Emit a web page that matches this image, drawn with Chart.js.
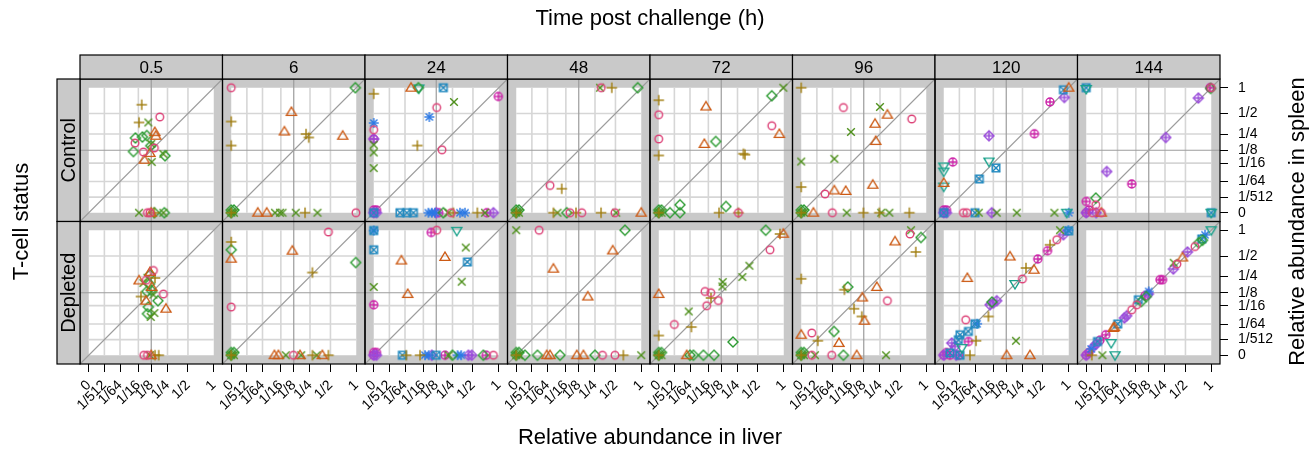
<!DOCTYPE html>
<html>
<head>
<meta charset="utf-8">
<script src="https://cdn.jsdelivr.net/npm/chart.js@4.4.1/dist/chart.umd.min.js"></script>
<style>
html,body{margin:0;padding:0;background:#fff;}
canvas{display:block;}
</style>
</head>
<body>
<canvas id="c" width="1314" height="450"></canvas>
<script>
// ---------------- data ----------------
const times = ['0.5', '6', '24', '48', '72', '96', '120', '144'];
const statuses = ['Control', 'Depleted'];
const tickValues = [0, 1/512, 1/64, 1/16, 1/8, 1/4, 1/2, 1];
const tickLabels = ['0', '1/512', '1/64', '1/16', '1/8', '1/4', '1/2', '1'];
const seriesNames = ['Strain 1','Strain 2','Strain 3','Strain 4','Strain 5','Strain 6','Strain 7','Strain 8','Strain 9','Strain 10'];

// points: [series index, relative abundance in liver, relative abundance in spleen]
const ctrl_0_5 = [
  [2,0.0762,0.645],[2,0.065,0.3764],[3,0.1085,0.3764],[0,0.1833,0.4495],[1,0.1472,0.2683],[1,0.154,0.2337],
  [4,0.0519,0.2139],[4,0.079,0.2225],[4,0.0999,0.236],[0,0.0507,0.1737],[4,0.122,0.154],[0,0.1447,0.139],
  [0,0.0835,0.1148],[4,0.0455,0.1176],[1,0.1176,0.1092],[1,0.0881,0.0762],[3,0.128,0.0669],[4,0.227,0.0948],
  [3,0.2128,0.1038],[3,0.125,0.1664],
  [3,0.065,0],[0,0.1032,0],[0,0.1176,0],[1,0.125,0],[4,0.1447,0],[2,0.1447,0],[4,0.2214,0],[3,0.2128,0]
];
const depl_0_5 = [
  [0,0.1382,0.3117],[1,0.1176,0.2954],[4,0.1176,0.2671],[1,0.065,0.2139],[2,0.1489,0.236],[3,0.0835,0.1931],
  [4,0.1141,0.1852],[1,0.128,0.1628],[4,0.0999,0.1327],[2,0.073,0.1038],[1,0.0961,0.0829],[0,0.2128,0.1176],
  [4,0.17,0.0829],[4,0.1085,0.0575],[3,0.1382,0.1134],[1,0.236,0.0515],[4,0.1032,0.0366],[3,0.122,0.0287],
  [3,0.1447,0.0386],[4,0.125,0.1406],[3,0.1038,0.2383],[0,0.0973,0.216],
  [0,0.0852,0],[0,0.1038,0],[1,0.125,0],[3,0.1176,0],[2,0.1489,0],[2,0.1756,0]
];
const ctrl_6 = [
  [0,0,1],[4,0.9791,1],[2,0,0.389],[2,0,0.1557],[1,0.1113,0.5236],[1,0.0768,0.2746],[2,0.2139,0.25],
  [2,0.2383,0.2182],[1,0.7097,0.2337],
  [4,0,0],[3,0,0],[2,0,0],[4,0.00001,0.00001],[3,0.00001,0],[4,0,0.00001],
  [1,0.00953,0],[1,0.0229,0],[3,0.0429,0],[3,0.0593,0],[3,0.0689,0],[3,0.1374,0],
  [2,0.2054,0],[3,0.3285,0],[0,0.994,0]
];
const depl_6 = [
  [0,0.4691,0.9586],[2,0,0.7437],[4,0,0.6012],[1,0,0.4601],[1,0.1169,0.5843],[4,0.988,0.4085],
  [2,0.2734,0.2901],[0,0,0.0575],
  [4,0,0],[3,0,0],[2,0,0],[4,0.00001,0.00001],[3,0.00001,0],[4,0,0.00001],
  [1,0.0411,0],[1,0.0536,0],[3,0.0829,0],[0,0.1228,0],[1,0.1664,0],[3,0.1756,0],
  [2,0.2734,0],[3,0.32,0],[1,0.3874,0],[2,0.4691,0]
];
const ctrl_24 = [
  [2,0,0.8628],[1,0.0265,1],[4,0.0455,1],[5,0.0467,0.985],[6,0.1728,1],[9,0.991,0.8044],[3,0.2646,0.6955],
  [0,0.128,0.5969],[7,0.0881,0.4495],[7,0,0.3701],[0,0,0.2928],[9,0,0.2054],[8,0,0.2054],[3,0,0.161],
  [3,0,0.112],[3,0,0.0455],[2,0.0425,0.1557],[0,0.1628,0.128],
  [9,0,0],[8,0,0],[6,0,0],[9,0.00001,0.00001],[8,0.00001,0],[9,0,0.00001],
  [6,0.00926,0],[6,0.0184,0],[6,0.0319,0],[7,0.0835,0],[7,0.0999,0],[7,0.1176,0],
  [8,0.125,0],[9,0.1406,0],[4,0.1728,0],[3,0.2128,0],[2,0.2585,0],[0,0.2383,0],[7,0.3285,0],[7,0.389,0],
  [2,0.5697,0],[3,0.705,0],[9,0.741,0],[8,0.8765,0]
];
const depl_24 = [
  [7,0,0.994],[6,0,0.994],[9,0.0973,0.947],[0,0.128,1],[5,0.2928,0.988],[6,0,0.6012],[1,0.0108,0.4355],
  [1,0.1852,0.4856],[3,0.3987,0.6405],[6,0.4202,0.4152],[3,0.3489,0.2033],[3,0,0.1628],[1,0.0201,0.1176],
  [9,0,0.0659],
  [9,0,0],[8,0,0],[9,0.00001,0.00001],[8,0.00001,0],[9,0,0.00001],
  [6,0.012,0],[2,0.0176,0],[2,0.0507,0],[7,0.0689,0],[7,0.0852,0],[8,0.0999,0],[6,0.125,0],
  [9,0.1852,0],[3,0.216,0],[4,0.25,0],[7,0.3008,0],[7,0.343,0],[8,0.4338,0],[8,0.4819,0],[4,0.6745,0],
  [9,0.729,0],[0,0.8765,0]
];
const ctrl_48 = [
  [3,0.3008,1],[0,0.3144,1],[2,0.446,1],[4,0.9183,1],[0,0.0197,0.0104],[2,0.0482,0.00708],
  [4,0,0],[3,0,0],[2,0,0],[4,0.00001,0.00001],[3,0.00001,0],[4,0,0.00001],
  [2,0.0262,0],[3,0.0359,0],[4,0.0659,0],[0,0.0795,0],[2,0.1092,0],[0,0.1439,0],
  [2,0.3117,0],[0,0.493,0],[3,0.512,0],[1,1,0]
];
const depl_48 = [
  [3,0,1],[0,0.00613,1],[4,0.6585,1],[1,0.4601,0.5885],[1,0.0262,0.3314],[1,0.1872,0.1038],
  [4,0,0],[3,0,0],[2,0,0],[4,0.00001,0.00001],[3,0.00001,0],[4,0,0.00001],
  [4,0.000343,0],[4,0.00491,0],[1,0.0145,0],[1,0.0197,0],[4,0.0429,0],[1,0.1134,0],
  [1,0.1549,0],[4,0.25,0],[0,0.3285,0],[0,0.493,0],[2,0.6294,0],[3,1,0]
];
const ctrl_72 = [
  [3,0.991,1],[4,0.7388,0.82],[2,0,0.729],[1,0.054,0.6141],[0,0,0.4819],[0,0.7388,0.3372],[1,0.8986,0.25],
  [0,0,0.2054],[1,0.0486,0.1664],[4,0.0948,0.1852],[2,0,0.0961],[2,0.3103,0.1052],[2,0.3285,0.1005],
  [4,0,0],[3,0,0],[2,0,0],[4,0.00001,0.00001],[3,0.00001,0],[4,0,0.00001],
  [4,0.000729,0],[4,0.00491,0],[4,0.00491,0.000262],[2,0.112,0],[4,0.1557,0.000125],
  [0,0.2585,0],[2,0.2585,0]
];
const depl_72 = [
  [4,0.6272,1],[2,0.9127,0.9127],[1,0.991,0.9183],[0,0.705,0.6012],[3,0.3811,0.3671],[3,0.2994,0.2453],
  [3,0.1342,0.2012],[3,0.1319,0.1664],[0,0.0507,0.1327],[0,0.072,0.125],[2,0.073,0.0961],[0,0.0566,0.0621],
  [0,0.1085,0.084],[1,0,0.1176],[3,0.0138,0.0429],[0,0.00195,0.0149],[2,0.0178,0.0115],[2,0,0.00394],
  [4,0.2096,0.00119],
  [4,0,0],[3,0,0],[2,0,0],[4,0.00001,0.00001],[3,0.00001,0],[4,0,0.00001],
  [1,0.0112,0],[4,0.0156,0],[4,0.0213,0],[4,0.0455,0],[4,0.0864,0]
];
const ctrl_96 = [
  [2,0,1],[0,0.0383,0.5969],[3,0.25,0.6055],[1,0.3271,0.4819],[0,0.6908,0.4219],[1,0.2054,0.3609],
  [3,0.063,0.2696],[1,0.2117,0.1891],[3,0,0.0689],[3,0.0186,0.0806],[2,0,0.00874],[1,0.0186,0.00564],
  [1,0.0451,0.00527],[1,0.1872,0.0112],[0,0.00686,0.00338],
  [4,0,0],[3,0,0],[2,0,0],[4,0.00001,0.00001],[3,0.00001,0],[4,0,0.00001],
  [1,0.000913,0],[0,0.0154,0],[3,0.0482,0],[2,0.1228,0],[2,0.2441,0],[3,0.2621,0],
  [3,0.3504,0],[2,0.6472,0]
];
const depl_96 = [
  [3,0.6769,1],[0,0.6585,0.9127],[4,0.8792,0.8359],[1,0.4219,0.7536],[2,0.7686,0.5636],[2,0,0.2292],
  [4,0.0515,0.1628],[2,0.0411,0.1439],[1,0.2204,0.1628],[1,0.1169,0.0986],[0,0.3271,0.0829],[2,0.0752,0.0515],
  [2,0.1134,0.0298],[1,0.1288,0.021],[0,0.000593,0.00564],[1,0,0.00441],[2,0.0023,0.00156],[4,0.018,0.00686],
  [1,0.0275,0.000941],
  [4,0,0],[3,0,0],[2,0,0],[4,0.00001,0.00001],[3,0.00001,0],[4,0,0.00001],
  [0,0.000593,0],[3,0.00133,0],[0,0.0145,0],[4,0.0383,0],[1,0.0875,0],[3,0.3117,0]
];
const ctrl_120 = [
  [1,1,1],[6,0.8765,0.9527],[9,0.6141,0.6955],[8,0.8986,0.7838],[9,0.3811,0.2524],[8,0.0474,0.2337],
  [9,0.000373,0.0669],[5,0.0474,0.0689],[6,0.073,0.0459],[6,0.0231,0.0197],[5,0,0.0507],[5,0,0.0359],
  [1,0,0.0135],[5,0,0.00926],
  [9,0,0],[8,0,0],[6,0,0],[9,0.00001,0.00001],[8,0.00001,0],[9,0,0.00001],
  [0,0.00387,0],[0,0.00623,0],[6,0.0156,0],[3,0.022,0],[8,0.0566,0],[3,0.0762,0],
  [3,0.1992,0],[3,0.6932,0],[5,0.9527,0],[7,1,0]
];
const depl_120 = [
  [3,0.8044,1],[7,0.991,1],[6,1,0.985],[8,0.8765,0.8958],[0,0.7388,0.7889],[2,0.6141,0.6908],[9,0.5718,0.5843],
  [9,0.4253,0.4565],[1,0.1489,0.493],[2,0.2849,0.3401],[1,0.3764,0.32],[0,0.2489,0.227],[5,0.1852,0.1852],
  [1,0.00675,0.236],[8,0.0762,0.0829],[8,0.0626,0.073],[4,0.0571,0.0768],[8,0.0507,0.0659],[2,0.0455,0.0298],
  [0,0.00545,0.0229],[6,0.0156,0.016],[7,0.019,0.016],[6,0.00765,0.00686],[6,0.0022,0.00441],[6,0.0016,0.00191],
  [8,0.000262,0.000941],[8,0.000729,0.000343],[9,0.00765,0.00133],[2,0.0172,0.00156],[3,0.1931,0.00156],
  [5,0.00299,0.000195],[6,0.000125,0.0000058],
  [9,0,0],[8,0,0],[9,0.00001,0.00001],[9,0.000125,0],[8,0.001,0],[6,0.0022,0],[9,0.00173,0],[2,0.00926,0],
  [1,0.128,0],[1,0.3285,0]
];
const ctrl_144 = [
  [6,0,1],[5,0,0.9703],[9,0.9703,1],[0,1,1],[4,0.985,0.985],[8,0.7217,0.7736],[8,0.2573,0.2182],
  [8,0.00441,0.0359],[9,0.0482,0.0122],[9,0,0.000729],[0,0.000439,0.000262],[4,0.000439,0.00164],
  [9,0,0],[8,0,0],[9,0.00001,0.00001],[0,0.000125,0],[8,0.000512,0],[0,0.00173,0],[1,0.00173,0],[6,1,0],[5,1,0]
];
const depl_144 = [
  [5,1,1],[7,0.8574,0.8958],[6,0.7889,0.8044],[4,0.729,0.729],[4,0.8044,0.7787],[0,0.6585,0.6585],
  [8,0.5314,0.5636],[1,0.4565,0.4782],[0,0.3811,0.389],[3,0.343,0.4052],[8,0.3386,0.3285],[9,0.2054,0.2204],
  [9,0.227,0.2204],[8,0.1228,0.1176],[7,0.125,0.1327],[4,0.1106,0.1038],[9,0.1038,0.1079],[6,0.0725,0.0875],
  [4,0.0852,0.0795],[0,0.0659,0.0659],[0,0.0482,0.0482],[8,0.0284,0.0265],[8,0.034,0.0316],[6,0.016,0.0156],
  [1,0.0102,0.0104],[1,0.0114,0.0114],[5,0.008,0.000941],[9,0.0038,0.00441],[3,0.00215,0],[5,0.0122,0],
  [8,0.000216,0.000343],[8,0.000512,0.000729],[9,0.00133,0.00173],[6,0.000729,0.00133],[7,0.000064,0.000125],
  [2,0.0000852,0],[9,0,0],[8,0,0],[9,0.00001,0.00001]
];

const panelData = [
  [ctrl_0_5, ctrl_6, ctrl_24, ctrl_48, ctrl_72, ctrl_96, ctrl_120, ctrl_144],
  [depl_0_5, depl_6, depl_24, depl_48, depl_72, depl_96, depl_120, depl_144]
];

// ---------------- styling ----------------
const FONT = "'Liberation Sans', Arial, Helvetica, sans-serif";
const seriesShapes = ['circle','triangle','plus','x','diamond','dtriangle','squarex','asterisk','diamondplus','circleplus'];
const seriesColors = ['#DD4479','#CC5A14','#A07C0C','#4F901C','#2A9A30','#17A08A','#2289BF','#2A78E4','#9A4CDA','#CC20A8'];

// cube-root axis transform
const tr = v => Math.cbrt(v);
const LO = -0.07, HI = 1.07;

function makeSymbol(shape, color) {
  const c = document.createElement('canvas');
  c.width = 16; c.height = 16;
  const g = c.getContext('2d');
  g.translate(8, 8);
  g.strokeStyle = color; g.lineWidth = 1.4;
  const line = (a, b, cc, d) => { g.beginPath(); g.moveTo(a, b); g.lineTo(cc, d); g.stroke(); };
  const circ = r => { g.beginPath(); g.arc(0, 0, r, 0, Math.PI * 2); g.stroke(); };
  const diamond = r => { g.beginPath(); g.moveTo(0, -r); g.lineTo(r, 0); g.lineTo(0, r); g.lineTo(-r, 0); g.closePath(); g.stroke(); };
  switch (shape) {
    case 'circle': circ(3.8); break;
    case 'triangle': g.beginPath(); g.moveTo(0, -5); g.lineTo(5, 3.4); g.lineTo(-5, 3.4); g.closePath(); g.stroke(); break;
    case 'plus': line(-5.3, 0, 5.3, 0); line(0, -5.3, 0, 5.3); break;
    case 'x': line(-3.8, -3.8, 3.8, 3.8); line(-3.8, 3.8, 3.8, -3.8); break;
    case 'diamond': diamond(5); break;
    case 'dtriangle': g.beginPath(); g.moveTo(0, 5); g.lineTo(5, -3.4); g.lineTo(-5, -3.4); g.closePath(); g.stroke(); break;
    case 'squarex': g.strokeRect(-3.8, -3.8, 7.6, 7.6); line(-3.8, -3.8, 3.8, 3.8); line(-3.8, 3.8, 3.8, -3.8); break;
    case 'asterisk': line(-5, 0, 5, 0); line(0, -5, 0, 5); line(-3.6, -3.6, 3.6, 3.6); line(-3.6, 3.6, 3.6, -3.6); break;
    case 'diamondplus': diamond(5); line(-5, 0, 5, 0); line(0, -5, 0, 5); break;
    case 'circleplus': circ(4); line(-4, 0, 4, 0); line(0, -4, 0, 4); break;
  }
  return c;
}
const symbols = seriesShapes.map((s, i) => makeSymbol(s, seriesColors[i]));

// ---------------- datasets ----------------
const datasets = [];
panelData.forEach((row, r) => {
  row.forEach((pts, c) => {
    seriesNames.forEach((name, s) => {
      const sel = pts.filter(p => p[0] === s);
      if (!sel.length) return;
      datasets.push({
        label: name + ' / ' + statuses[r] + ' / ' + times[c] + ' h',
        data: sel.map(p => ({ x: tr(p[1]), y: tr(p[2]) })),
        xAxisID: 'x' + c, yAxisID: 'y' + r,
        pointStyle: symbols[s], pointRadius: 5, pointHoverRadius: 5,
        showLine: false, clip: false
      });
    });
  });
});

// ---------------- scales ----------------
const scales = {};
times.forEach((t, i) => {
  scales['x' + i] = {
    type: 'linear', position: 'bottom', stack: 'cols', stackWeight: 1,
    min: LO, max: HI,
    afterBuildTicks: s => { s.ticks = tickValues.map(v => ({ value: tr(v) })); },
    afterFit: s => { s.height = 50; },
    grid: { display: true, drawOnChartArea: false, drawTicks: true, tickLength: 8, color: '#000', lineWidth: 1 },
    border: { display: false },
    ticks: { autoSkip: false, maxRotation: 45, minRotation: 45, padding: 5, color: '#000',
             font: { family: FONT, size: 14 }, callback: (v, idx) => tickLabels[idx] }
  };
});
statuses.forEach((st, i) => {
  scales['y' + i] = {
    type: 'linear', position: 'right', stack: 'rows', stackWeight: 1,
    min: LO, max: HI,
    afterBuildTicks: s => { s.ticks = tickValues.map(v => ({ value: tr(v) })); },
    afterFit: s => { s.width = 60; },
    grid: { display: true, drawOnChartArea: false, drawTicks: true, tickLength: 8, color: '#000', lineWidth: 1 },
    border: { display: false },
    ticks: { autoSkip: false, padding: 10, color: '#000',
             font: { family: FONT, size: 14 }, callback: (v, idx) => tickLabels[idx] }
  };
});

// ---------------- panel / strip / title drawing ----------------
const BAND = '#c9c9c9', GRID = '#d6d6d6', REF = '#9c9c9c', STRIP = '#c9c9c9';
const panelPlugin = {
  id: 'latticePanels',
  beforeDatasetsDraw(chart) {
    const g = chart.ctx;
    g.save();
    times.forEach((t, c) => {
      const xs = chart.scales['x' + c];
      statuses.forEach((st, r) => {
        const ys = chart.scales['y' + r];
        const L = xs.left, R = xs.right, T = ys.top, B = ys.bottom;
        g.fillStyle = BAND; g.fillRect(L, T, R - L, B - T);
        const x0 = xs.getPixelForValue(0), x1 = xs.getPixelForValue(1);
        const y0 = ys.getPixelForValue(0), y1 = ys.getPixelForValue(1);
        g.fillStyle = '#fff'; g.fillRect(x0, y1, x1 - x0, y0 - y1);
        g.strokeStyle = GRID; g.lineWidth = 1.6;
        tickValues.forEach(v => {
          if (v === 0 || v === 1 || v === 1/8) return;
          const px = xs.getPixelForValue(tr(v)), py = ys.getPixelForValue(tr(v));
          g.beginPath(); g.moveTo(px, y1); g.lineTo(px, y0); g.stroke();
          g.beginPath(); g.moveTo(x0, py); g.lineTo(x1, py); g.stroke();
        });
        g.strokeStyle = REF; g.lineWidth = 1.2;
        const rx = xs.getPixelForValue(tr(1/8)), ry = ys.getPixelForValue(tr(1/8));
        g.beginPath(); g.moveTo(rx, T); g.lineTo(rx, B); g.stroke();
        g.beginPath(); g.moveTo(L, ry); g.lineTo(R, ry); g.stroke();
        g.lineWidth = 1.1;
        g.beginPath(); g.moveTo(xs.getPixelForValue(LO), ys.getPixelForValue(LO));
        g.lineTo(xs.getPixelForValue(HI), ys.getPixelForValue(HI)); g.stroke();
      });
    });
    g.restore();
  },
  afterDatasetsDraw(chart) {
    const g = chart.ctx;
    const area = chart.chartArea;
    g.save();
    g.strokeStyle = '#000'; g.lineWidth = 1.2;
    // panel borders
    times.forEach((t, c) => {
      const xs = chart.scales['x' + c];
      statuses.forEach((st, r) => {
        const ys = chart.scales['y' + r];
        g.strokeRect(xs.left, ys.top, xs.right - xs.left, ys.bottom - ys.top);
      });
    });
    // top strips
    const stripTop = area.top - 24;
    times.forEach((t, c) => {
      const xs = chart.scales['x' + c];
      g.fillStyle = STRIP; g.fillRect(xs.left, stripTop, xs.right - xs.left, area.top - stripTop);
      g.strokeRect(xs.left, stripTop, xs.right - xs.left, area.top - stripTop);
      g.fillStyle = '#000'; g.font = '17px ' + FONT; g.textAlign = 'center'; g.textBaseline = 'middle';
      g.fillText(t, (xs.left + xs.right) / 2, (stripTop + area.top) / 2 + 1);
    });
    // left strips
    const stripLeft = area.left - 23;
    statuses.forEach((st, r) => {
      const ys = chart.scales['y' + r];
      g.fillStyle = STRIP; g.fillRect(stripLeft, ys.top, area.left - stripLeft, ys.bottom - ys.top);
      g.strokeRect(stripLeft, ys.top, area.left - stripLeft, ys.bottom - ys.top);
      g.save();
      g.translate((stripLeft + area.left) / 2 + 1, (ys.top + ys.bottom) / 2);
      g.rotate(-Math.PI / 2);
      g.fillStyle = '#000'; g.font = '20px ' + FONT; g.textAlign = 'center'; g.textBaseline = 'middle';
      g.fillText(st, 0, 0);
      g.restore();
    });
    // titles
    g.fillStyle = '#000'; g.font = '22px ' + FONT; g.textAlign = 'center'; g.textBaseline = 'middle';
    const cx = (area.left + area.right) / 2, cy = (area.top + area.bottom) / 2;
    g.fillText('Time post challenge (h)', cx, 19);
    g.fillText('Relative abundance in liver', cx, 438);
    g.save(); g.translate(22, cy); g.rotate(-Math.PI / 2); g.fillText('T-cell status', 0, 0); g.restore();
    g.save(); g.translate(1298, cy); g.rotate(-Math.PI / 2); g.fillText('Relative abundance in spleen', 0, 0); g.restore();
    g.restore();
  }
};

new Chart(document.getElementById('c'), {
  type: 'scatter',
  data: { datasets },
  options: {
    responsive: false, animation: false, devicePixelRatio: 1,
    layout: { padding: { left: 80, top: 79, right: 34, bottom: 36 } },
    scales,
    plugins: { legend: { display: false }, tooltip: { enabled: false } }
  },
  plugins: [panelPlugin]
});
</script>
</body>
</html>
